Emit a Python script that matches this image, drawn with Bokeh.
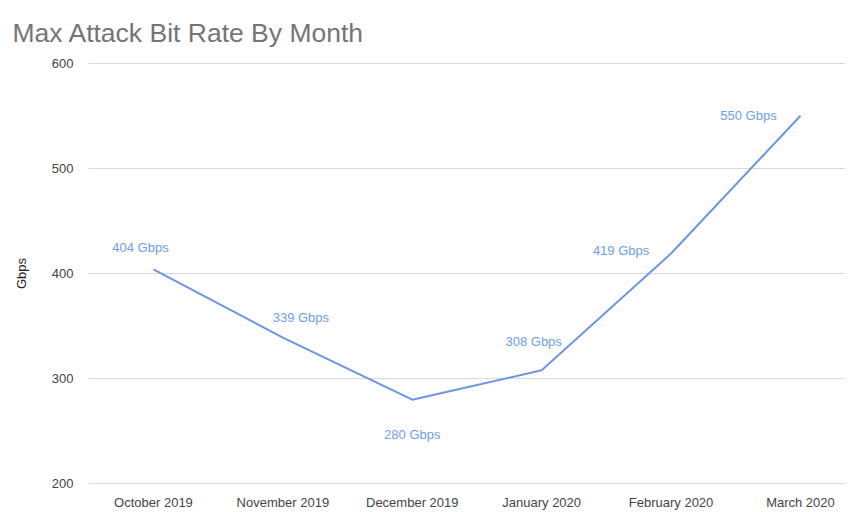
from bokeh.plotting import figure
from bokeh.models import Range1d, FixedTicker, ColumnDataSource
from bokeh.embed import file_html
from bokeh.resources import INLINE
from bokeh.core.properties import value

months = ["October 2019", "November 2019", "December 2019", "January 2020", "February 2020", "March 2020"]
gbps = [404, 339, 280, 308, 419, 550]
y_ticks = [200, 300, 400, 500, 600]

# label placement (style only, pixels)
dx = [-13, 18, 0, -8, -50, -52]
dy = [-22, -20, 35, -29, -3, 0]

xs = list(range(len(months)))
src = ColumnDataSource(dict(x=xs, y=gbps, lab=[f"{v} Gbps" for v in gbps], dx=dx, dy=dy))

p = figure(width=857, height=512, output_backend="svg", toolbar_location=None,
           x_range=Range1d(-0.502, 5.348), y_range=Range1d(199.4, 600.6),
           min_border_left=88, min_border_right=12, min_border_top=62, min_border_bottom=22)
p.outline_line_color = None
p.background_fill_color = "white"
p.border_fill_color = "white"

p.title.text = "Max Attack Bit Rate By Month"
p.title.text_font = "Liberation Sans"
p.title.text_font_size = "26.5px"
p.title.text_color = "#757575"
p.title.text_font_style = "normal"
p.title.align = "left"
p.title.offset = -76
p.title.standoff = 30

p.xaxis.ticker = FixedTicker(ticks=xs)
p.xaxis.major_label_overrides = {i: m for i, m in enumerate(months)}
p.yaxis.ticker = FixedTicker(ticks=y_ticks)
for ax in (p.xaxis[0], p.yaxis[0]):
    ax.axis_line_color = None
    ax.major_tick_line_color = None
    ax.minor_tick_line_color = None
    ax.major_label_text_font = "Liberation Sans"
    ax.major_label_text_font_size = "13px"
    ax.major_label_text_color = "#444444"
p.xaxis.major_label_standoff = 4
p.yaxis.major_label_standoff = 9
p.yaxis.axis_label = "Gbps"
p.yaxis.axis_label_text_font = "Liberation Sans"
p.yaxis.axis_label_text_font_size = "13px"
p.yaxis.axis_label_text_font_style = "normal"
p.yaxis.axis_label_text_color = "#222222"
p.yaxis.axis_label_standoff = 20

p.xgrid.grid_line_color = None
p.ygrid.ticker = FixedTicker(ticks=y_ticks)
p.ygrid.grid_line_color = "#d9d9d9"
p.ygrid.grid_line_width = 1

p.line("x", "y", source=src, line_color="#6d95e3", line_width=2)
p.text("x", "y", text="lab", source=src, x_offset="dx", y_offset="dy",
       text_font=value("Liberation Sans"), text_font_size="13px", text_color="#6d9eeb",
       text_align="center", text_baseline="middle")

open("out.html", "w").write(file_html(p, INLINE))
